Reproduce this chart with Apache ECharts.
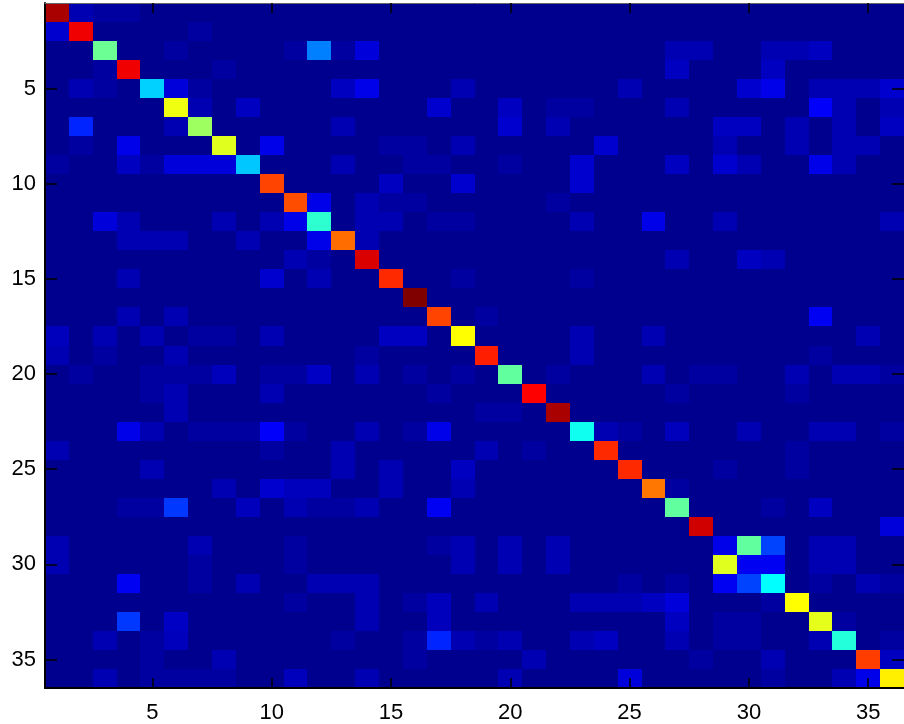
<!DOCTYPE html>
<html>
<head>
<meta charset="utf-8">
<script src="https://cdn.jsdelivr.net/npm/echarts@6/dist/echarts.min.js"></script>
<style>
  html, body { margin: 0; padding: 0; background: #fff; }
  #chart { width: 904px; height: 724px; }
</style>
</head>
<body>
<div id="chart"></div>
<script>
// class indices along both axes
var classes = [1, 2, 3, 4, 5, 6, 7, 8, 9, 10, 11, 12, 13, 14, 15, 16, 17, 18,
  19, 20, 21, 22, 23, 24, 25, 26, 27, 28, 29, 30, 31, 32, 33, 34, 35, 36];
var tickLabels = [5, 10, 15, 20, 25, 30, 35];

// diagonal values (percent)
var diagonal = [96, 89, 48, 89, 33, 61, 53, 59.5, 32, 81, 80, 42, 77, 91, 83.5, 100, 81, 62.5,
  84.5, 47, 87.5, 96, 39, 83.5, 83.5, 76, 47, 92, 10, 11, 37.5, 62.5, 60, 41, 81.5, 64];

// off-diagonal cells: [row, col, value], 1-based, everything else is 0
var offDiagonal = [
  [1, 2, 4], [1, 3, 2], [1, 4, 2],
  [2, 1, 7], [2, 7, 2],
  [3, 6, 2], [3, 11, 2], [3, 12, 25], [3, 13, 2], [3, 14, 8.5], [3, 27, 4], [3, 28, 4], [3, 31, 4], [3, 32, 4], [3, 33, 5.5],
  [4, 3, 2], [4, 8, 2], [4, 27, 5.5], [4, 31, 5.5],
  [5, 2, 4], [5, 3, 2], [5, 6, 8.5], [5, 7, 2], [5, 13, 5.5], [5, 14, 10], [5, 18, 4], [5, 25, 4], [5, 30, 7], [5, 31, 10], [5, 33, 4], [5, 34, 4], [5, 35, 4], [5, 36, 7],
  [6, 7, 4], [6, 9, 5.5], [6, 17, 7], [6, 20, 5.5], [6, 22, 2], [6, 23, 2], [6, 27, 4], [6, 33, 12], [6, 34, 4], [6, 36, 4],
  [7, 2, 16], [7, 6, 4], [7, 13, 4], [7, 20, 7], [7, 22, 4], [7, 29, 5.5], [7, 30, 5.5], [7, 32, 4], [7, 34, 4], [7, 36, 5.5],
  [8, 2, 2], [8, 4, 10], [8, 10, 10], [8, 15, 2], [8, 16, 2], [8, 18, 4], [8, 24, 7], [8, 29, 4], [8, 32, 4], [8, 34, 4], [8, 35, 4],
  [9, 1, 2], [9, 4, 5.5], [9, 5, 2], [9, 6, 8.5], [9, 7, 8.5], [9, 8, 8.5], [9, 13, 4], [9, 16, 2], [9, 17, 2], [9, 20, 2], [9, 23, 7], [9, 27, 5.5], [9, 29, 7], [9, 30, 4], [9, 33, 10], [9, 34, 4],
  [10, 15, 5.5], [10, 18, 7], [10, 23, 7],
  [11, 12, 10], [11, 14, 4], [11, 15, 2], [11, 16, 2], [11, 22, 2],
  [12, 3, 8.5], [12, 4, 4], [12, 8, 4], [12, 10, 4], [12, 11, 10], [12, 14, 4], [12, 15, 4], [12, 17, 2], [12, 18, 2], [12, 23, 4], [12, 26, 10], [12, 29, 4], [12, 36, 4],
  [13, 4, 4], [13, 5, 4], [13, 6, 4], [13, 9, 4], [13, 12, 10], [13, 14, 4],
  [14, 11, 4], [14, 12, 2], [14, 27, 4], [14, 30, 5.5], [14, 31, 4],
  [15, 4, 4], [15, 10, 7], [15, 12, 4], [15, 18, 2], [15, 23, 2],
  [17, 4, 4], [17, 6, 4], [17, 19, 2], [17, 33, 11],
  [18, 1, 5], [18, 3, 4], [18, 5, 4], [18, 7, 2], [18, 8, 2], [18, 10, 4], [18, 15, 5.5], [18, 16, 5.5], [18, 23, 4], [18, 26, 4], [18, 35, 4],
  [19, 1, 4], [19, 3, 2], [19, 6, 4], [19, 14, 2], [19, 23, 4], [19, 33, 2],
  [20, 2, 2], [20, 5, 2], [20, 6, 2], [20, 7, 2], [20, 8, 5], [20, 10, 2], [20, 11, 2], [20, 12, 6], [20, 14, 4], [20, 16, 2], [20, 18, 2], [20, 22, 2], [20, 26, 4], [20, 28, 2], [20, 29, 2], [20, 32, 4], [20, 34, 4], [20, 35, 4], [20, 36, 2],
  [21, 5, 2], [21, 6, 4], [21, 10, 4], [21, 17, 2], [21, 27, 2], [21, 32, 2],
  [22, 6, 4], [22, 19, 2], [22, 20, 2],
  [23, 4, 10], [23, 5, 4], [23, 7, 2], [23, 8, 2], [23, 9, 2], [23, 10, 12], [23, 11, 2], [23, 14, 4], [23, 16, 2], [23, 17, 10], [23, 24, 4], [23, 25, 2], [23, 27, 5], [23, 30, 4], [23, 33, 4], [23, 34, 4], [23, 36, 2],
  [24, 1, 4], [24, 10, 2], [24, 13, 4], [24, 19, 4], [24, 21, 2], [24, 32, 2],
  [25, 5, 4], [25, 13, 4], [25, 15, 4], [25, 18, 5.5], [25, 29, 2], [25, 32, 2],
  [26, 8, 4], [26, 10, 7], [26, 11, 5], [26, 12, 5], [26, 15, 4], [26, 18, 4], [26, 27, 2],
  [27, 4, 2], [27, 5, 2], [27, 6, 18], [27, 9, 5], [27, 11, 4], [27, 12, 2], [27, 13, 2], [27, 14, 4], [27, 17, 11], [27, 31, 2], [27, 33, 5.5],
  [28, 36, 8.5],
  [29, 1, 4], [29, 7, 4], [29, 11, 2], [29, 17, 2], [29, 18, 4], [29, 20, 4], [29, 22, 4], [29, 30, 47], [29, 31, 19], [29, 33, 4], [29, 34, 4],
  [30, 1, 4], [30, 7, 2], [30, 11, 2], [30, 18, 4], [30, 20, 4], [30, 22, 4], [30, 29, 59.5], [30, 31, 11], [30, 33, 4], [30, 34, 4],
  [31, 4, 11], [31, 7, 2], [31, 9, 4], [31, 12, 4], [31, 13, 4], [31, 14, 4], [31, 25, 2], [31, 27, 2], [31, 29, 11], [31, 30, 19], [31, 33, 2], [31, 35, 4], [31, 36, 2],
  [32, 11, 2], [32, 14, 4], [32, 16, 2], [32, 17, 5], [32, 19, 4], [32, 23, 4], [32, 24, 4], [32, 25, 4], [32, 26, 5.5], [32, 27, 8.5], [32, 31, 2],
  [33, 4, 18], [33, 6, 6], [33, 14, 4], [33, 17, 5], [33, 27, 5.5], [33, 29, 2], [33, 30, 2], [33, 34, 2],
  [34, 3, 4], [34, 5, 2], [34, 6, 5], [34, 13, 2], [34, 16, 2], [34, 17, 16], [34, 18, 4], [34, 19, 2], [34, 20, 4], [34, 23, 4], [34, 24, 5.5], [34, 27, 4], [34, 29, 2], [34, 30, 2], [34, 33, 4], [34, 36, 2],
  [35, 5, 2], [35, 8, 4], [35, 16, 2], [35, 21, 4], [35, 28, 2], [35, 31, 4], [35, 36, 5.5],
  [36, 3, 4], [36, 5, 2], [36, 6, 2], [36, 7, 2], [36, 8, 2], [36, 11, 5], [36, 14, 4], [36, 20, 4], [36, 25, 8.5], [36, 31, 2], [36, 34, 4], [36, 35, 10]
];

// jet colour map
var jet = ['#00008F', '#0000FF', '#0080FF', '#00FFFF', '#80FF80', '#FFFF00', '#FF8000', '#FF0000', '#800000'];

var matrix = classes.map(function () { return classes.map(function () { return 0; }); });
diagonal.forEach(function (v, i) { matrix[i][i] = v; });
offDiagonal.forEach(function (d) { matrix[d[0] - 1][d[1] - 1] = d[2]; });

var cells = [];
matrix.forEach(function (row, r) {
  row.forEach(function (v, c) { cells.push([classes[c], classes[r], v]); });
});

// cells snapped to whole pixels so there are no seams between them
function renderCell(params, api) {
  var p0 = api.coord([api.value(0) - 0.5, api.value(1) - 0.5]);
  var p1 = api.coord([api.value(0) + 0.5, api.value(1) + 0.5]);
  var x0 = Math.round(Math.min(p0[0], p1[0])), x1 = Math.round(Math.max(p0[0], p1[0]));
  var y0 = Math.round(Math.min(p0[1], p1[1])), y1 = Math.round(Math.max(p0[1], p1[1]));
  return {
    type: 'rect',
    shape: { x: x0, y: y0, width: x1 - x0, height: y1 - y0 },
    style: { fill: api.visual('color') }
  };
}

var font = { fontFamily: 'Liberation Sans, Arial, sans-serif', fontSize: 22, color: '#000' };
var noSplit = { show: false };
var tick = function (len) {
  return { show: true, inside: true, length: len, customValues: tickLabels, lineStyle: { color: '#000', width: 1.5 } };
};
var axisBase = function (pos, inverse) {
  return {
    type: 'value', position: pos, inverse: inverse, min: 0.5, max: 36.5, z: 10,
    splitLine: noSplit, splitArea: noSplit, minorTick: noSplit
  };
};

var chart = echarts.init(document.getElementById('chart'), null, { renderer: 'canvas' });
chart.setOption({
  animation: false,
  backgroundColor: '#fff',
  grid: { left: 45, top: 3, width: 870, height: 685 },
  visualMap: { show: false, dimension: 2, min: 0, max: 100, calculable: false, inRange: { color: jet } },
  xAxis: [
    Object.assign(axisBase('bottom', false), {
      axisLine: { show: true, onZero: false, lineStyle: { color: '#000', width: 2 } },
      axisTick: tick(10),
      axisLabel: Object.assign({ customValues: tickLabels, margin: 14 }, font)
    }),
    Object.assign(axisBase('top', false), {
      axisLine: { show: true, onZero: false, lineStyle: { color: '#666', width: 1 } },
      axisTick: tick(10),
      axisLabel: { show: false }
    })
  ],
  yAxis: [
    Object.assign(axisBase('left', true), {
      axisLine: { show: true, onZero: false, lineStyle: { color: '#000', width: 2 } },
      axisTick: tick(12),
      axisLabel: Object.assign({ customValues: tickLabels, margin: 9 }, font)
    }),
    Object.assign(axisBase('right', true), {
      axisLine: { show: true, onZero: false, lineStyle: { color: '#000', width: 1 } },
      axisTick: tick(12),
      axisLabel: { show: false }
    })
  ],
  series: [{
    type: 'custom',
    z: 1,
    renderItem: renderCell,
    encode: { x: 0, y: 1 },
    data: cells,
    silent: true,
    clip: true
  }]
});
</script>
</body>
</html>
